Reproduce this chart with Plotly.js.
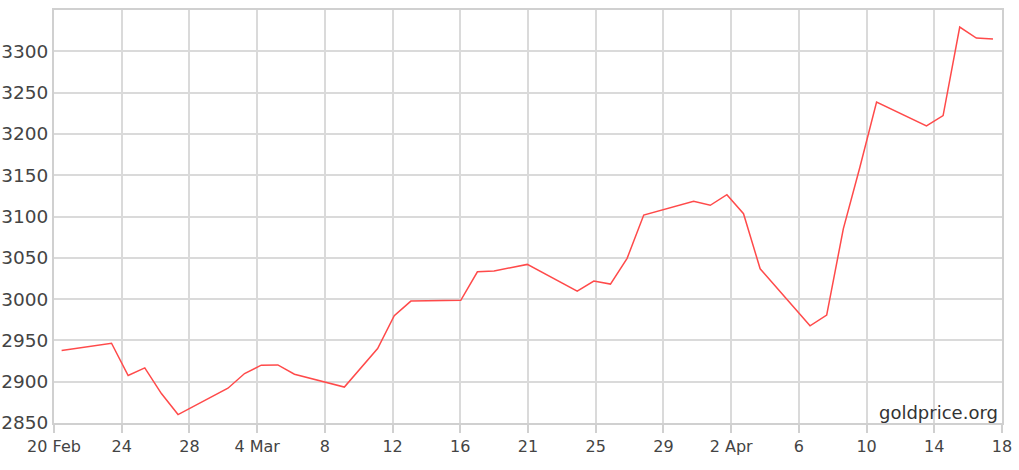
<!DOCTYPE html>
<html>
<head>
<meta charset="utf-8">
<script src="https://cdn.plot.ly/plotly-3.0.1.min.js"></script>
<style>
  html, body { margin: 0; padding: 0; background: #fff; }
  #chart { width: 1019px; height: 470px; }
</style>
</head>
<body>
<div id="chart"></div>
<script>
// Gold price (USD/oz)
const dates = [
  '2025-02-20', '2025-02-23', '2025-02-24', '2025-02-25', '2025-02-26', '2025-02-27',
  '2025-03-02', '2025-03-03', '2025-03-04', '2025-03-05', '2025-03-06',
  '2025-03-09', '2025-03-11', '2025-03-12', '2025-03-13',
  '2025-03-16', '2025-03-17', '2025-03-18', '2025-03-20',
  '2025-03-23', '2025-03-24', '2025-03-25', '2025-03-26', '2025-03-27',
  '2025-03-30', '2025-03-31', '2025-04-01', '2025-04-02', '2025-04-03',
  '2025-04-06', '2025-04-07', '2025-04-08', '2025-04-09', '2025-04-10',
  '2025-04-13', '2025-04-14', '2025-04-15', '2025-04-16', '2025-04-17'
];
const prices = [
  2937.8, 2946.6, 2907.5, 2916.7, 2885.6, 2860.2,
  2892.1, 2909.9, 2920.0, 2920.3, 2909.0,
  2893.5, 2940.2, 2980.0, 2997.6,
  2998.6, 3033.1, 3034.0, 3042.0,
  3009.7, 3021.8, 3018.2, 3049.3, 3101.8,
  3118.4, 3113.6, 3126.4, 3103.4, 3036.7,
  2967.6, 2980.6, 3085.0, 3160.0, 3238.5,
  3209.7, 3222.2, 3329.4, 3316.0, 3314.8
];
const tickLabels = ['20 Feb', '24', '28', '4 Mar', '8', '12', '16', '21', '25', '29', '2 Apr', '6', '10', '14', '18'];
const yTicks = [2850, 2900, 2950, 3000, 3050, 3100, 3150, 3200, 3250, 3300, 3350];
const xRange = ['2025-02-20', '2025-04-18'];
const yRange = [2850, 3350];
const watermark = 'goldprice.org';

function pad(n) { return (n < 10 ? '0' : '') + n; }
function fmt(ms) {
  const d = new Date(ms);
  return d.getUTCFullYear() + '-' + pad(d.getUTCMonth() + 1) + '-' + pad(d.getUTCDate()) + ' ' +
    pad(d.getUTCHours()) + ':' + pad(d.getUTCMinutes()) + ':' + pad(d.getUTCSeconds());
}
const t0 = Date.parse(xRange[0] + 'T00:00:00Z');
const t1 = Date.parse(xRange[1] + 'T00:00:00Z');
const tickVals = tickLabels.map((_, i) => fmt(t0 + (t1 - t0) * i / (tickLabels.length - 1)));

const trace = {
  type: 'scatter',
  mode: 'lines',
  x: dates.map(d => d + ' 11:00'),
  y: prices,
  line: { color: '#ff4a4a', width: 1.5 },
  hoverinfo: 'x+y'
};

const font = 'DejaVu Sans, Verdana, sans-serif';
const layout = {
  width: 1019,
  height: 470,
  margin: { l: 54, r: 17, t: 10, b: 47, pad: 0 },
  paper_bgcolor: '#ffffff',
  plot_bgcolor: '#ffffff',
  showlegend: false,
  font: { family: font, color: '#444' },
  xaxis: {
    type: 'date',
    range: xRange,
    tickmode: 'array',
    tickvals: tickVals,
    ticktext: tickLabels,
    showgrid: true,
    gridcolor: '#dadada',
    gridwidth: 2,
    showline: true,
    mirror: true,
    linecolor: '#d0d0d0',
    linewidth: 2,
    ticks: 'outside',
    ticklen: 8,
    tickwidth: 2,
    tickcolor: '#d0d0d0',
    tickfont: { family: font, size: 16, color: '#444' },
    zeroline: false,
    fixedrange: true
  },
  yaxis: {
    range: yRange,
    tickmode: 'array',
    tickvals: yTicks,
    showgrid: true,
    gridcolor: '#dadada',
    gridwidth: 2,
    showline: true,
    mirror: true,
    linecolor: '#d0d0d0',
    linewidth: 2,
    ticks: '',
    tickfont: { family: font, size: 18.5, color: '#444' },
    zeroline: false,
    fixedrange: true
  },
  annotations: [{
    text: watermark,
    xref: 'paper', yref: 'paper',
    x: 1, y: 0,
    xanchor: 'right', yanchor: 'bottom',
    xshift: -2, yshift: -2,
    showarrow: false,
    font: { family: font, size: 18, color: '#333' }
  }]
};

Plotly.newPlot('chart', [trace], layout, { staticPlot: true, displayModeBar: false });
</script>
</body>
</html>
